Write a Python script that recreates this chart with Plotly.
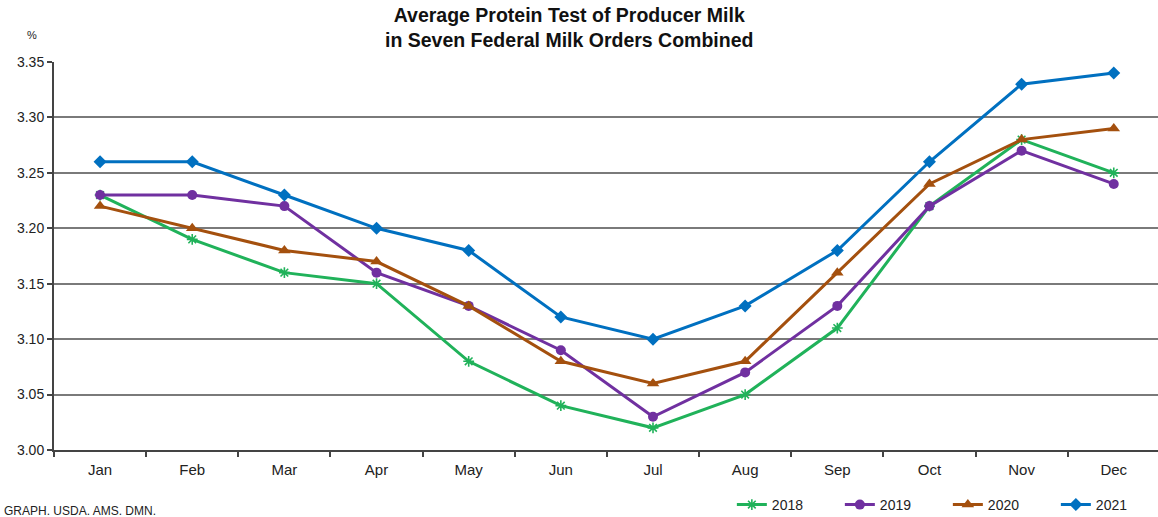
import plotly.graph_objects as go

months = ["Jan", "Feb", "Mar", "Apr", "May", "Jun", "Jul", "Aug", "Sep", "Oct", "Nov", "Dec"]

protein_2018 = [3.23, 3.19, 3.16, 3.15, 3.08, 3.04, 3.02, 3.05, 3.11, 3.22, 3.28, 3.25]
protein_2019 = [3.23, 3.23, 3.22, 3.16, 3.13, 3.09, 3.03, 3.07, 3.13, 3.22, 3.27, 3.24]
protein_2020 = [3.22, 3.20, 3.18, 3.17, 3.13, 3.08, 3.06, 3.08, 3.16, 3.24, 3.28, 3.29]
protein_2021 = [3.26, 3.26, 3.23, 3.20, 3.18, 3.12, 3.10, 3.13, 3.18, 3.26, 3.33, 3.34]

y_ticks = [3.00, 3.05, 3.10, 3.15, 3.20, 3.25, 3.30, 3.35]

FONT = "Liberation Sans, Arial, sans-serif"

series = [
    ("2018", protein_2018, "#20B25A", dict(symbol="asterisk-open", size=9, line=dict(color="#20B25A", width=1.6))),
    ("2019", protein_2019, "#7030A0", dict(symbol="circle", size=10)),
    ("2020", protein_2020, "#A4500E", dict(symbol="triangle-up", size=11)),
    ("2021", protein_2021, "#0070C0", dict(symbol="diamond", size=10)),
]

fig = go.Figure()
for name, vals, color, marker in series:
    fig.add_trace(go.Scatter(
        x=months, y=vals, name=name, mode="lines+markers",
        line=dict(color=color, width=3),
        marker=dict(color=color, **marker),
    ))

fig.update_layout(
    width=1158, height=517,
    margin=dict(l=54, r=0, t=62, b=67, autoexpand=False),
    paper_bgcolor="white", plot_bgcolor="white",
    font=dict(family=FONT, size=14, color="#222"),
    xaxis=dict(
        type="category", range=[-0.5, 11.48],
        showgrid=False, showline=True, linecolor="#444", linewidth=2,
        ticks="outside", tickson="boundaries", ticklen=5, tickcolor="#444", tickwidth=2,
        tickfont=dict(size=15, color="#222"), ticklabelstandoff=5,
    ),
    yaxis=dict(
        range=[3.0, 3.35], tickvals=y_ticks, tickformat=".2f",
        showgrid=True, gridcolor="#7a7a7a", gridwidth=2,
        showline=True, linecolor="#444", linewidth=2,
        ticks="outside", ticklen=5, tickcolor="#444", tickwidth=2,
        tickfont=dict(size=14, color="#222"), zeroline=False,
    ),
    legend=dict(
        orientation="h", xref="container", yref="container",
        x=0.632, xanchor="left", y=0.0232, yanchor="middle",
        font=dict(size=14, color="#222"), entrywidth=63, entrywidthmode="pixels",
        bgcolor="rgba(0,0,0,0)",
    ),
    showlegend=True,
)

# Two-line bold title above the plot area
fig.add_annotation(
    text="<b>Average Protein Test of Producer Milk<br>in Seven Federal Milk Orders Combined</b>",
    xref="paper", yref="paper", x=0.4665, y=1.0889,
    xanchor="center", yanchor="middle", showarrow=False,
    font=dict(family=FONT, size=19.5, color="#111"),
)
fig.add_annotation(
    text="%", xref="paper", yref="paper", x=-0.02, y=1.07,
    xanchor="center", yanchor="middle", showarrow=False,
    font=dict(size=11, color="#222"),
)
fig.add_annotation(
    text="GRAPH. USDA. AMS. DMN.", xref="paper", yref="paper", x=-0.047, y=-0.133,
    xanchor="left", yanchor="top", showarrow=False,
    font=dict(size=12, color="#222"),
)

fig.write_html("out.html")
